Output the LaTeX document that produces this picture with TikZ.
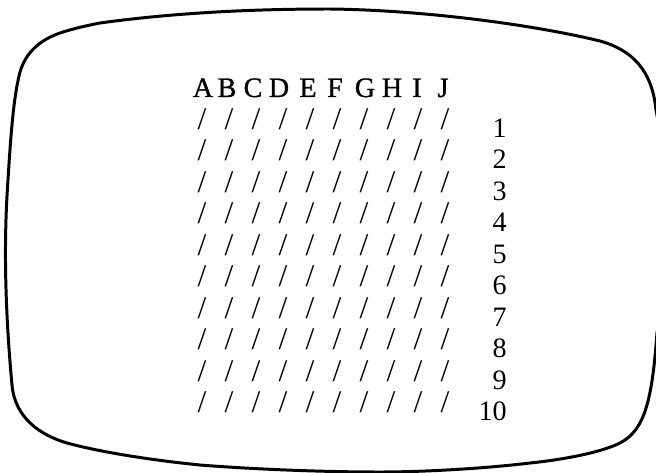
\documentclass[tikz,border=0pt]{standalone}
\usepackage{fontspec}
\setmainfont{Liberation Serif}
\newfontfamily\headfont[FakeBold=1]{Liberation Serif}
\begin{document}
\begin{tikzpicture}[x=0.02cm,y=-0.02cm,
  screen/.style={line width=1.7pt,line join=round},
  colhead/.style={inner sep=0pt,anchor=base,font=\headfont\fontsize{16}{18}\selectfont},
  slashmark/.style={inner sep=0pt,anchor=center,font=\fontsize{18}{20}\selectfont},
  rowno/.style={inner sep=0pt,anchor=base east,font=\fontsize{16}{18}\selectfont}]
\useasboundingbox (0,0) rectangle (656,473);
\clip (0,0) rectangle (656,473);
% screen outline
\draw[screen] (100,23) .. controls (180,12) and (260,9) .. (330,9)
  .. controls (420,10) and (530,24) .. (600,41)
  .. controls (632,50) and (652,70) .. (656,110)
  .. controls (670,180) and (668,280) .. (657,333)
  .. controls (652,400) and (645,430) .. (620,443)
  .. controls (600,453) and (560,460) .. (530,463)
  .. controls (480,469) and (420,472) .. (380,472)
  .. controls (320,472) and (250,469) .. (200,465)
  .. controls (150,460) and (100,452) .. (67,443)
  .. controls (40,435) and (15,418) .. (12,385)
  .. controls (6,320) and (3,250) .. (8,180)
  .. controls (11,130) and (14,95) .. (20,72)
  .. controls (26,52) and (40,40) .. (60,33)
  .. controls (75,28) and (90,25) .. (100,23) -- cycle;
% column letters
\foreach \l/\x [count=\i] in {A/203,B/227,C/253,D/279,E/308,F/335,G/365,H/392,I/417,J/443}
  \node[colhead] (L\i) at (\x,97) {\l};
% slashes
\foreach \r in {1,...,10}{
  \foreach \c in {1,...,10}{
    \node[slashmark] (s-\r-\c) at ({202+27*(\c-1)},{119+31.5*(\r-1)}) {/};
  }
  \node[rowno] (n\r) at (507,{137+31.5*(\r-1)}) {\r};
}
\end{tikzpicture}
\end{document}
